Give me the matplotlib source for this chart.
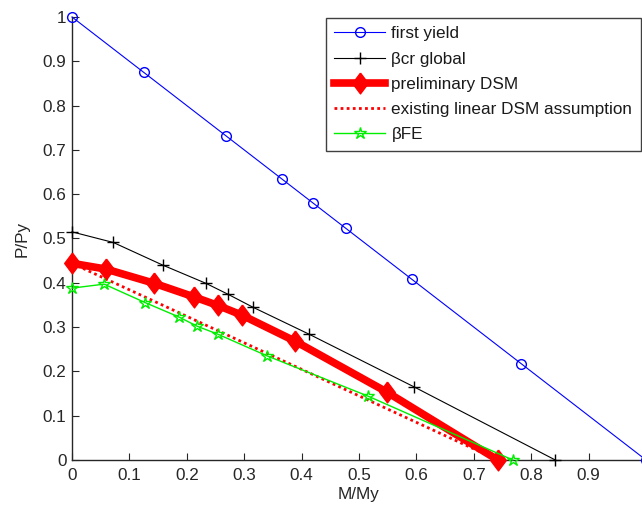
import matplotlib
matplotlib.use("Agg")
import matplotlib.pyplot as plt

plt.rcParams['font.family'] = ['Liberation Sans', 'DejaVu Sans']

# first yield
fy_x = [0, 0.125, 0.268, 0.366, 0.42, 0.477, 0.592, 0.783, 1.0]
fy_y = [1.0, 0.875, 0.732, 0.634, 0.58, 0.523, 0.408, 0.217, 0.0]
# beta cr global
cr_x = [0, 0.072, 0.158, 0.233, 0.272, 0.315, 0.413, 0.596, 0.842]
cr_y = [0.515, 0.491, 0.440, 0.399, 0.374, 0.345, 0.284, 0.165, 0.0]
# preliminary DSM
dsm_x = [0, 0.059, 0.143, 0.213, 0.254, 0.296, 0.389, 0.549, 0.742]
dsm_y = [0.444, 0.431, 0.399, 0.368, 0.349, 0.327, 0.268, 0.153, 0.0]
# existing linear DSM assumption
lin_x = [0, 0.742]
lin_y = [0.444, 0.0]
# beta FE
fe_x = [0, 0.056, 0.128, 0.186, 0.218, 0.254, 0.34, 0.516, 0.768]
fe_y = [0.388, 0.397, 0.355, 0.323, 0.302, 0.284, 0.235, 0.144, 0.0]

xticks = [0, 0.1, 0.2, 0.3, 0.4, 0.5, 0.6, 0.7, 0.8, 0.9]
xticklabels = ['0', '0.1', '0.2', '0.3', '0.4', '0.5', '0.6', '0.7', '0.8', '0.9']
yticks = [0, 0.1, 0.2, 0.3, 0.4, 0.5, 0.6, 0.7, 0.8, 0.9, 1.0]
yticklabels = ['0', '0.1', '0.2', '0.3', '0.4', '0.5', '0.6', '0.7', '0.8', '0.9', '1']

W, H = 642, 508
fig = plt.figure(figsize=(W / 100, H / 100), dpi=100)
ax = fig.add_axes([72 / W, 48 / H, 574 / W, 443 / H])

fs = 12.3
diamond = [(0, 1), (0.75, 0), (0, -1), (-0.75, 0), (0, 1)]

ax.plot(fy_x, fy_y, color='blue', lw=0.8, marker='o', ms=7, mfc='none', mec='blue',
        mew=1.0, label='first yield', clip_on=False, zorder=3)
ax.plot(cr_x, cr_y, color='black', lw=0.8, marker='+', ms=9, mew=1.0,
        label='βcr global', clip_on=False, zorder=3)
ax.plot(dsm_x, dsm_y, color='red', lw=5.5, marker=diamond, ms=15, mfc='red', mec='red',
        label='preliminary DSM', clip_on=False, zorder=4)
ax.plot(lin_x, lin_y, color='red', lw=2, ls=(0, (1, 1.2)),
        label='existing linear DSM assumption', clip_on=False, zorder=5)
ax.plot(fe_x, fe_y, color='#00ee00', lw=1.0, marker='*', ms=9, mfc='none', mec='#00ee00',
        mew=1.0, label='βFE', clip_on=False, zorder=6)

ax.set_xlim(0, 1)
ax.set_ylim(0, 1)
ax.set_xticks(xticks)
ax.set_xticklabels(xticklabels)
ax.set_yticks(yticks)
ax.set_yticklabels(yticklabels)
ax.tick_params(direction='in', length=5, width=0.8, labelsize=fs, colors='#262626',
               labelcolor='#262626')
ax.tick_params(axis='x', pad=6)
ax.tick_params(axis='y', pad=4)
for s in ['top', 'right']:
    ax.spines[s].set_visible(False)
for s in ['left', 'bottom']:
    ax.spines[s].set_linewidth(1.0)
    ax.spines[s].set_color('#262626')

ax.set_xlabel('M/My', fontsize=fs, color='#262626', labelpad=3)
ax.set_ylabel('P/Py', fontsize=fs, color='#262626', labelpad=9)

leg = ax.legend(loc='upper right', bbox_to_anchor=(0.991, 0.998), fontsize=fs,
                frameon=True, fancybox=False, edgecolor='#404040', framealpha=1,
                handlelength=3.0, handletextpad=0.35, labelspacing=0.6,
                borderpad=0.5, borderaxespad=0)
leg.get_frame().set_linewidth(1.0)
for t in leg.get_texts():
    t.set_color('#1a1a1a')

fig.savefig('out.png', dpi=100)
